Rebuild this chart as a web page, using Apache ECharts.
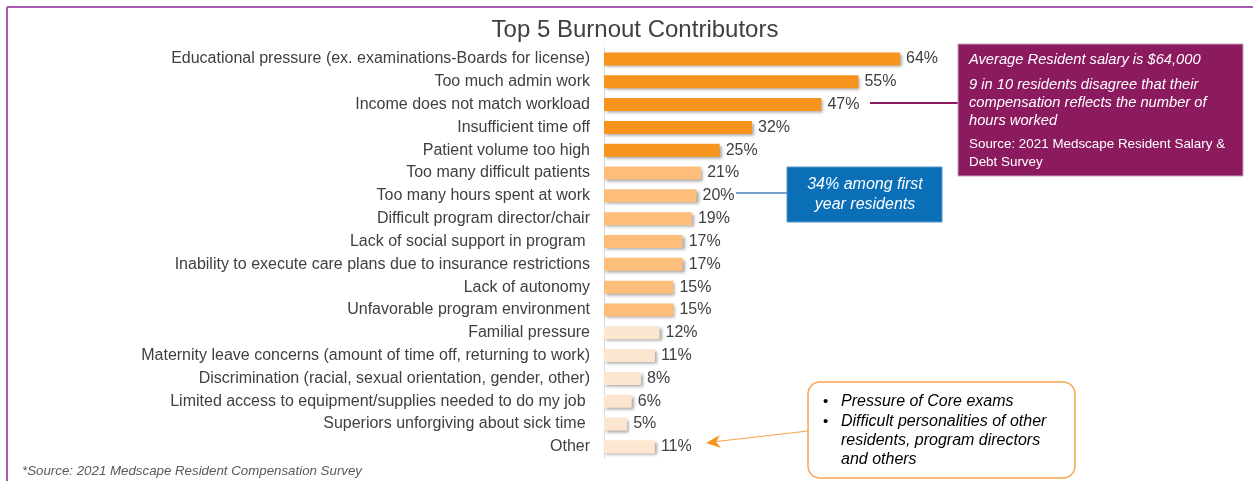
<!DOCTYPE html>
<html>
<head>
<meta charset="utf-8">
<title>Top 5 Burnout Contributors</title>
<script src="https://cdn.jsdelivr.net/npm/echarts@6/dist/echarts.min.js"></script>
<style>
  html, body { margin: 0; padding: 0; background: #fff; }
  #main { width: 1253px; height: 481px; }
</style>
</head>
<body>
<div id="main"></div>
<script>
// categories, top to bottom
var categories = [
    'Educational pressure (ex. examinations-Boards for license)',
    'Too much admin work',
    'Income does not match workload',
    'Insufficient time off',
    'Patient volume too high',
    'Too many difficult patients',
    'Too many hours spent at work',
    'Difficult program director/chair',
    'Lack of social support in program ',
    'Inability to execute care plans due to insurance restrictions',
    'Lack of autonomy',
    'Unfavorable program environment',
    'Familial pressure',
    'Maternity leave concerns (amount of time off, returning to work)',
    'Discrimination (racial, sexual orientation, gender, other)',
    'Limited access to equipment/supplies needed to do my job ',
    'Superiors unforgiving about sick time ',
    'Other'
];
var values = [64, 55, 47, 32, 25, 21, 20, 19, 17, 17, 15, 15, 12, 11, 8, 6, 5, 11];
// 0 = top 5, 1 = middle group, 2 = bottom group
var tiers = [0, 0, 0, 0, 0, 1, 1, 1, 1, 1, 1, 1, 2, 2, 2, 2, 2, 2];
var tierColors = ['#F7941D', '#FDBE7C', '#FDE6CF'];

var purpleNotes = [
    'Average Resident salary is $64,000',
    '9 in 10 residents disagree that their',
    'compensation reflects the number of',
    'hours worked'
];
var purpleSource = ['Source: 2021 Medscape Resident Salary &', 'Debt Survey'];
var blueNote = ['34% among first', 'year residents'];
var otherNotes = ['Pressure of Core exams', 'Difficult personalities of other', 'residents, program directors', 'and others'];

var font = '"Liberation Sans", Arial, sans-serif';

var barData = [];
for (var i = 0; i < values.length; i++) {
    barData.push({
        value: values[i],
        itemStyle: { color: tierColors[tiers[i]] }
    });
}

// annotation shapes
var graphics = [
    // frame
    { type: 'line', shape: { x1: 7, y1: 7, x2: 1253, y2: 7 }, style: { stroke: '#A959B3', lineWidth: 2 } },
    { type: 'line', shape: { x1: 7, y1: 7, x2: 7, y2: 481 }, style: { stroke: '#A959B3', lineWidth: 2 } },
    // purple box
    { type: 'line', shape: { x1: 870, y1: 103, x2: 958, y2: 103 }, style: { stroke: '#8C1A5E', lineWidth: 2 } },
    { type: 'rect', shape: { x: 958, y: 44, width: 285, height: 132 }, style: { fill: '#8C1A5E', stroke: '#C9A0BC', lineWidth: 1 } },
    // blue box
    { type: 'line', shape: { x1: 736, y1: 193, x2: 787, y2: 193 }, style: { stroke: '#4A80B8', lineWidth: 1.5 } },
    { type: 'rect', shape: { x: 787, y: 167, width: 155, height: 55 }, style: { fill: '#0B6FB8', stroke: '#5D95C8', lineWidth: 1 } },
    // orange box
    { type: 'rect', shape: { x: 808, y: 382, width: 267, height: 96, r: 12 }, style: { fill: '#fff', stroke: '#F8A64C', lineWidth: 1.5 } },
    { type: 'line', shape: { x1: 808, y1: 431, x2: 712, y2: 442 }, style: { stroke: '#F8A64C', lineWidth: 1.2 } },
    { type: 'polygon', shape: { points: [[706, 443], [720, 435], [716, 442], [721, 448]] }, style: { fill: '#F7941D' } },
    // footnote
    { type: 'text', style: { x: 22, y: 471, text: '*Source: 2021 Medscape Resident Compensation Survey', font: 'italic 13.3px ' + font, fill: '#595959', verticalAlign: 'middle' } }
];

var py = [60, 85, 103, 121];
for (var j = 0; j < purpleNotes.length; j++) {
    graphics.push({ type: 'text', style: { x: 969, y: py[j], text: purpleNotes[j], font: 'italic 14.7px ' + font, fill: '#fff', verticalAlign: 'middle' } });
}
var sy = [144, 162];
for (var k = 0; k < purpleSource.length; k++) {
    graphics.push({ type: 'text', style: { x: 969, y: sy[k], text: purpleSource[k], font: '13.4px ' + font, fill: '#fff', verticalAlign: 'middle' } });
}
var by = [185, 205];
for (var b = 0; b < blueNote.length; b++) {
    graphics.push({ type: 'text', style: { x: 865, y: by[b], text: blueNote[b], font: 'italic 16px ' + font, fill: '#fff', align: 'center', verticalAlign: 'middle' } });
}
var oy = [402, 422, 441, 460];
for (var o = 0; o < otherNotes.length; o++) {
    if (o < 2) {
        graphics.push({ type: 'text', style: { x: 823, y: oy[o], text: '•', font: '15px ' + font, fill: '#000', verticalAlign: 'middle' } });
    }
    graphics.push({ type: 'text', style: { x: 841, y: oy[o], text: otherNotes[o], font: 'italic 16px ' + font, fill: '#000', verticalAlign: 'middle' } });
}

var option = {
    backgroundColor: '#fff',
    animation: false,
    title: {
        text: 'Top 5 Burnout Contributors',
        left: 630,
        top: 13,
        textAlign: 'center',
        textStyle: { fontFamily: font, fontSize: 24, fontWeight: 'normal', color: '#404040' }
    },
    grid: { left: 604, top: 47.5, width: 462.5, height: 410.8 },
    xAxis: {
        type: 'value',
        min: 0,
        max: 100,
        show: false
    },
    yAxis: {
        type: 'category',
        data: categories,
        inverse: true,
        axisLine: { show: true, lineStyle: { color: '#D9D9D9', width: 1 } },
        axisTick: { show: false },
        axisLabel: { fontFamily: font, fontSize: 16, color: '#404040', margin: 14 }
    },
    series: [{
        type: 'bar',
        data: barData,
        barWidth: 13,
        itemStyle: {
            shadowColor: 'rgba(0,0,0,0.35)',
            shadowBlur: 3,
            shadowOffsetX: 2,
            shadowOffsetY: 2
        },
        label: {
            show: true,
            position: 'right',
            distance: 6,
            formatter: '{c}%',
            fontFamily: font,
            fontSize: 16,
            color: '#404040'
        }
    }],
    graphic: graphics
};

var myChart = echarts.init(document.getElementById('main'));
myChart.setOption(option);
window.addEventListener('resize', function () {
    myChart.resize();
});
</script>
</body>
</html>
